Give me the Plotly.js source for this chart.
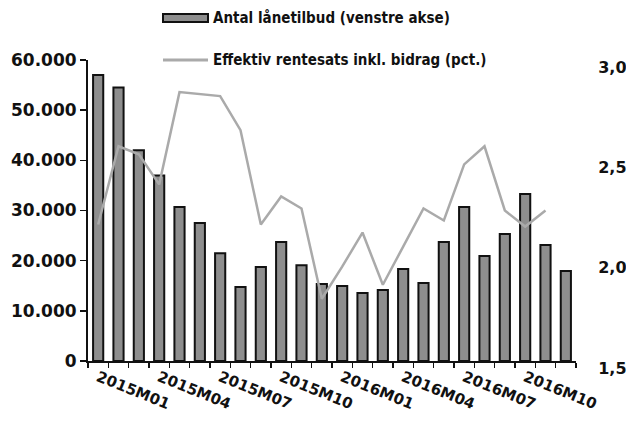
<!DOCTYPE html>
<html>
<head>
<meta charset="utf-8">
<script src="https://cdn.plot.ly/plotly-3.0.1.min.js"></script>
<style>
  html, body { margin: 0; padding: 0; background: #ffffff; }
  #chart { width: 626px; height: 429px; }
</style>
</head>
<body>
<div id="chart"></div>
<script>
// Monthly categories
const months = [
  '2015M01', '2015M02', '2015M03', '2015M04', '2015M05', '2015M06',
  '2015M07', '2015M08', '2015M09', '2015M10', '2015M11', '2015M12',
  '2016M01', '2016M02', '2016M03', '2016M04', '2016M05', '2016M06',
  '2016M07', '2016M08', '2016M09', '2016M10', '2016M11', '2016M12'
];

// Number of loan offers (left axis)
const loanOffers = [
  57000, 54500, 42000, 37000, 30700, 27500,
  21500, 14750, 18750, 23700, 19100, 15350,
  14950, 13550, 14150, 18350, 15550, 23700,
  30700, 20950, 25300, 33300, 23100, 17950
];

// Effective interest rate incl. contribution, pct. (right axis)
const effectiveRate = [
  2.18, 2.57, 2.53, 2.38, 2.84, 2.83,
  2.82, 2.65, 2.18, 2.32, 2.26, 1.81,
  1.97, 2.14, 1.88, 2.07, 2.26, 2.20,
  2.48, 2.57, 2.25, 2.17, 2.25, null
];

// Months that carry a visible tick label
const labelledMonths = [
  '2015M01', '2015M04', '2015M07', '2015M10',
  '2016M01', '2016M04', '2016M07', '2016M10'
];

// Legend entries
const legendBarText = 'Antal lånetilbud (venstre akse)';
const legendLineText = 'Effektiv rentesats inkl. bidrag (pct.)';

// Axis ticks
const leftTicks = [0, 10000, 20000, 30000, 40000, 50000, 60000];
const rightTicks = [1.5, 2.0, 2.5, 3.0];

const tickText = months.map(m => labelledMonths.includes(m) ? m : '');

const BAR_FILL = '#8e8e8e';
const LINE_GREY = '#aaaaaa';
const INK = '#111111';
const tickFont = { family: 'DejaVu Sans, sans-serif', size: 17, color: INK, weight: 'bold' };
const legendFont = { family: 'DejaVu Sans Condensed, sans-serif', size: 15, color: INK, weight: 'bold' };

const traces = [
  {
    type: 'bar',
    x: months,
    y: loanOffers,
    name: legendBarText,
    marker: { color: BAR_FILL, line: { color: INK, width: 2 } },
    yaxis: 'y',
    hoverinfo: 'skip'
  },
  {
    type: 'scatter',
    mode: 'lines',
    x: months,
    y: effectiveRate,
    name: legendLineText,
    line: { color: LINE_GREY, width: 2.5 },
    yaxis: 'y2',
    connectgaps: false,
    hoverinfo: 'skip'
  }
];

// Plot area: x 88..576 px, y 60..361 px
const px2paperX = p => (p - 88) / 488;
const px2paperY = p => (361 - p) / 301;

const layout = {
  width: 626,
  height: 429,
  margin: { l: 88, r: 50, t: 60, b: 68 },
  paper_bgcolor: '#ffffff',
  plot_bgcolor: '#ffffff',
  separators: ',.',
  showlegend: false,
  bargap: 0.5,
  xaxis: {
    type: 'category',
    tickmode: 'array',
    tickvals: months,
    ticktext: tickText,
    tickson: 'boundaries',
    ticks: 'outside',
    ticklen: 5,
    tickwidth: 1.5,
    tickcolor: INK,
    tickangle: 22,
    tickfont: { family: 'DejaVu Sans, sans-serif', size: 15, color: INK, weight: 'bold' },
    showline: true,
    linecolor: INK,
    linewidth: 2,
    showgrid: false,
    zeroline: false,
    fixedrange: true
  },
  yaxis: {
    range: [0, 60000],
    tickmode: 'array',
    tickvals: leftTicks,
    tickformat: ',.0f',
    ticks: 'outside',
    ticklen: 6,
    tickwidth: 1.5,
    tickcolor: INK,
    tickfont: tickFont,
    showline: true,
    linecolor: INK,
    linewidth: 2,
    showgrid: false,
    zeroline: false,
    fixedrange: true
  },
  yaxis2: {
    overlaying: 'y',
    side: 'right',
    range: [1.5, 3.0],
    tickmode: 'array',
    tickvals: rightTicks,
    tickformat: '.1f',
    ticks: 'outside',
    ticklen: 18,
    tickcolor: 'rgba(0,0,0,0)',
    ticklabelshift: 7,
    tickfont: { family: 'DejaVu Sans, sans-serif', size: 16, color: INK, weight: 'bold' },
    showline: false,
    showgrid: false,
    zeroline: false,
    fixedrange: true
  },
  shapes: [
    {
      type: 'rect', xref: 'paper', yref: 'paper',
      x0: px2paperX(163), x1: px2paperX(208),
      y0: px2paperY(22), y1: px2paperY(14),
      fillcolor: BAR_FILL, line: { color: INK, width: 2 }
    },
    {
      type: 'line', xref: 'paper', yref: 'paper',
      x0: px2paperX(163), x1: px2paperX(208),
      y0: px2paperY(60), y1: px2paperY(60),
      line: { color: LINE_GREY, width: 3 }
    }
  ],
  annotations: [
    {
      xref: 'paper', yref: 'paper',
      x: px2paperX(211), y: px2paperY(18),
      xanchor: 'left', yanchor: 'middle',
      text: legendBarText, showarrow: false, font: legendFont
    },
    {
      xref: 'paper', yref: 'paper',
      x: px2paperX(211), y: px2paperY(60),
      xanchor: 'left', yanchor: 'middle',
      text: legendLineText, showarrow: false, font: legendFont
    }
  ]
};

Plotly.newPlot('chart', traces, layout, { displayModeBar: false, staticPlot: true });
</script>
</body>
</html>
